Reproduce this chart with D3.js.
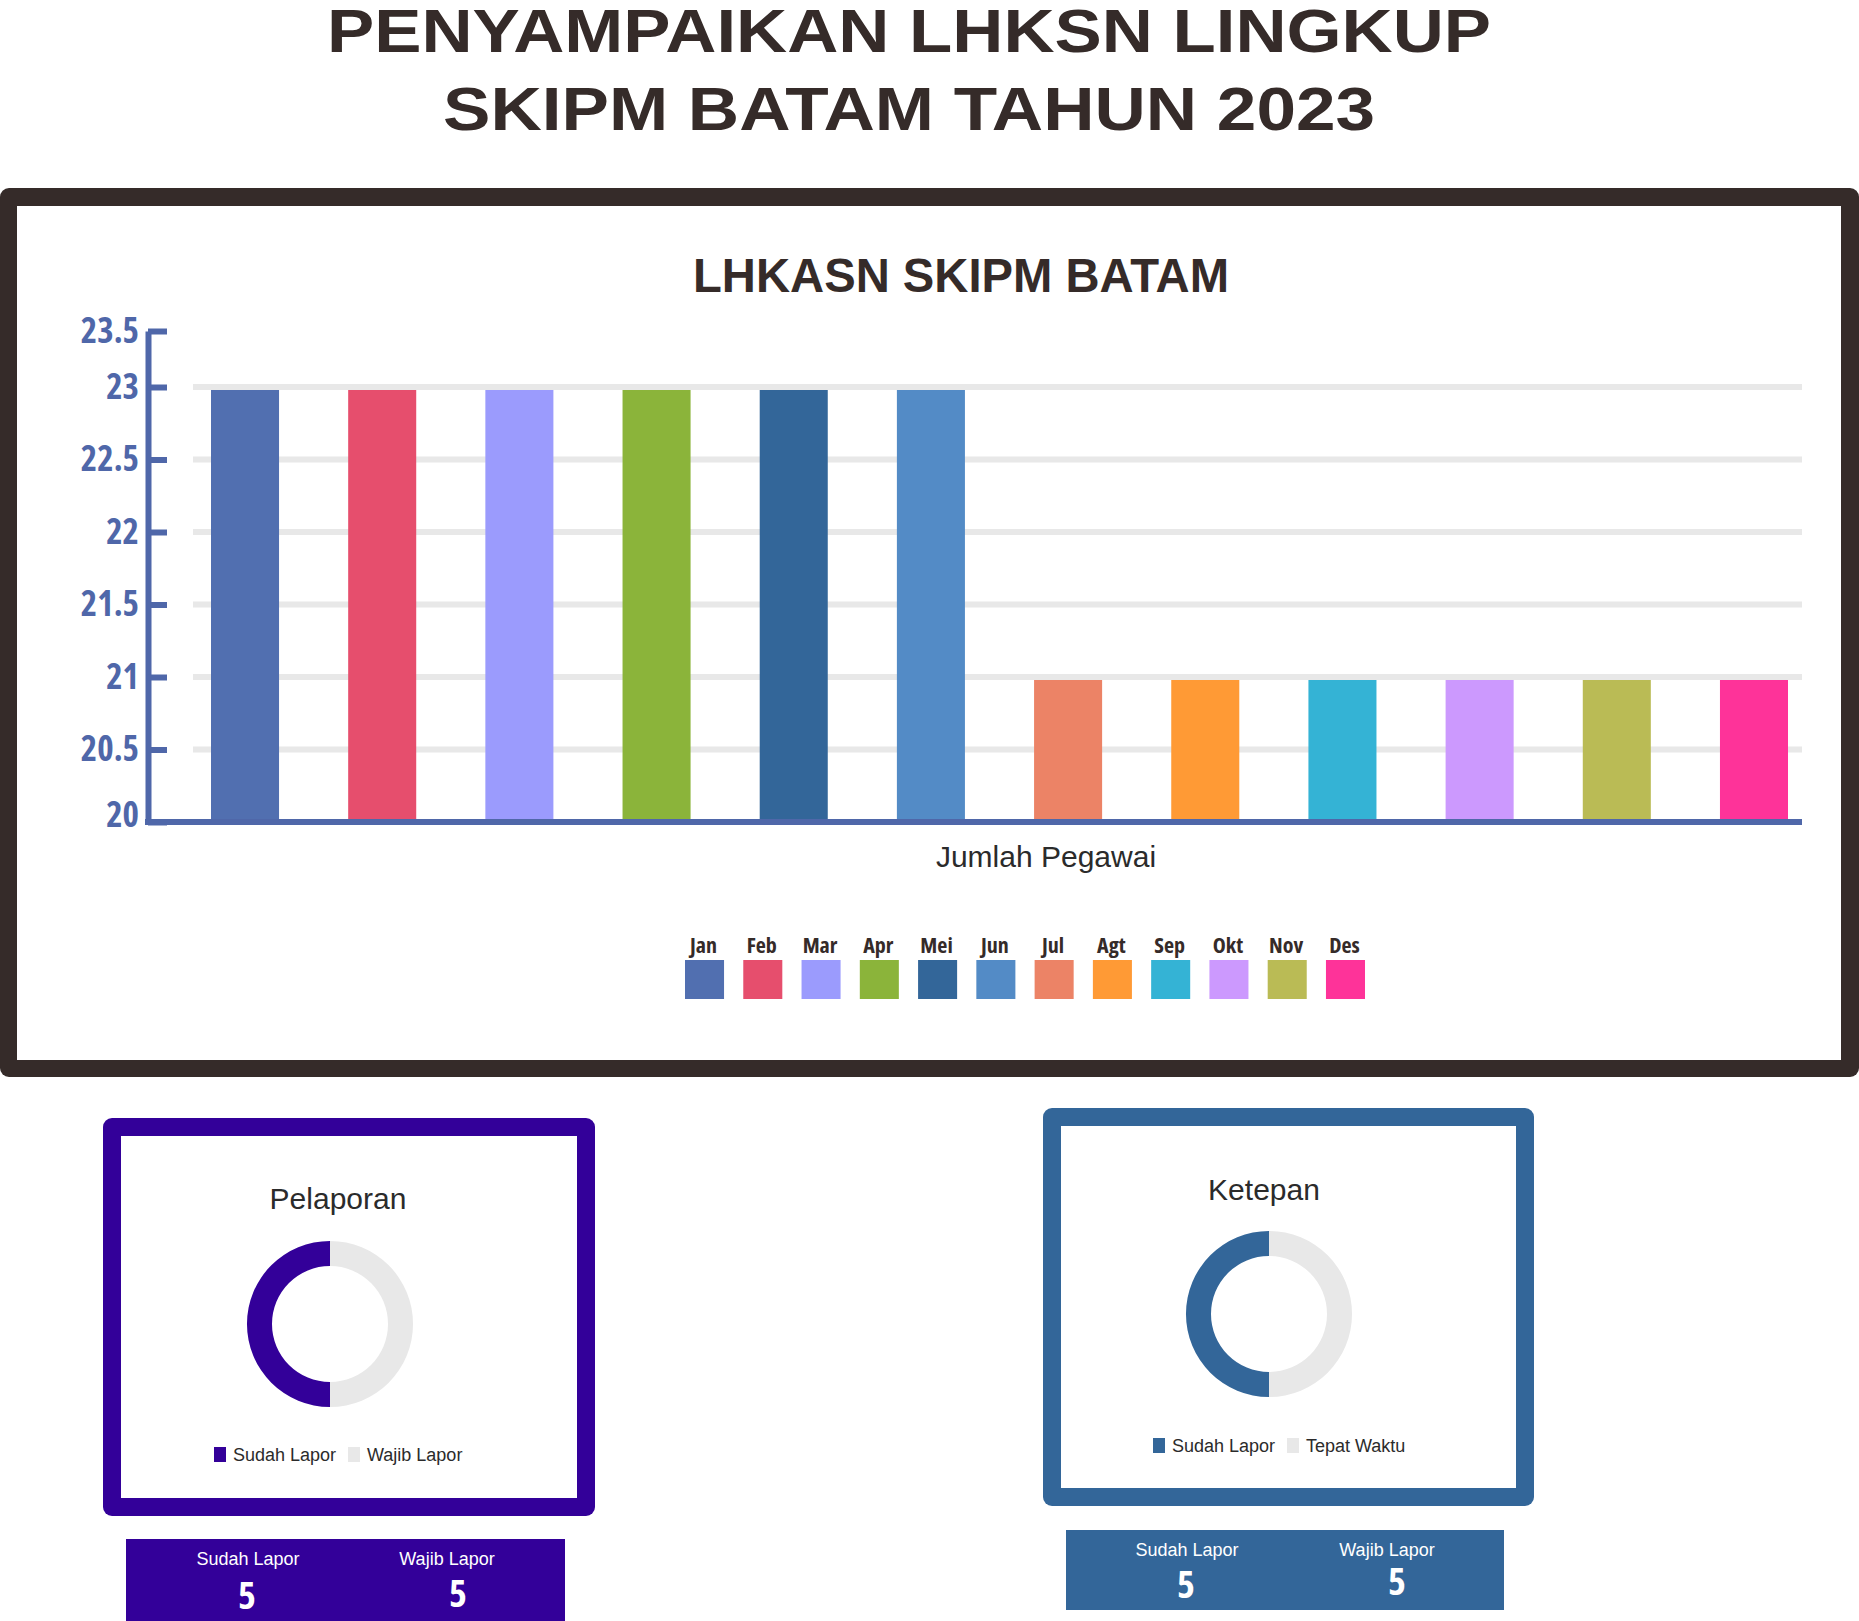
<!DOCTYPE html>
<html>
<head>
<meta charset="utf-8">
<script src="https://cdn.jsdelivr.net/npm/d3@7"></script>
<style>
	body { margin: 0; background: #ffffff; }
</style>
</head>
<body>
<div id="page"></div>
<script>

// Bar chart data (LHKASN per month)
const months = ["Jan", "Feb", "Mar", "Apr", "Mei", "Jun", "Jul", "Agt", "Sep", "Okt", "Nov", "Des"];
const pegawai = [23, 23, 23, 23, 23, 23, 21, 21, 21, 21, 21, 21];
const monthColors = ["#516fb0", "#e64e6d", "#9b9bfd", "#8bb43a", "#336699", "#538bc6",
                     "#ec8366", "#ff9a35", "#34b3d5", "#cc99fe", "#babb55", "#fe3399"];
const yTicks = [20, 20.5, 21, 21.5, 22, 22.5, 23, 23.5];

// Donut data
const pelaporanKeys = ["Sudah Lapor", "Wajib Lapor"];
const pelaporanValues = [5, 5];
const ketepanKeys = ["Sudah Lapor", "Tepat Waktu"];
const ketepanValues = [5, 5];

// Summary boxes under the donuts
const statKeys = ["Sudah Lapor", "Wajib Lapor"];
const pelaporanStats = [5, 5];
const ketepanStats = [5, 5];

const W = 1859, H = 1621;
const dark = "#352b29";
const axisBlue = "#4f67a9";
const grid = "#e8e8e8";
const condensed = "'Open Sans', sans-serif";
const arial = "'Liberation Sans', Arial, sans-serif";

const svg = d3.select("#page")
	.append("svg")
		.attr("width", W)
		.attr("height", H);

////////////////////
// TITLE

// glyphs are stretched a bit wider in the source, so fit each line to its width
const titleLines = [
	{text: "PENYAMPAIKAN LHKSN LINGKUP", y: 52, len: 1164},
	{text: "SKIPM BATAM TAHUN 2023", y: 130, len: 932}
];
svg.selectAll("text.title")
	.data(titleLines)
	.enter()
	.append("text")
		.attr("class", "title")
		.attr("x", 909)
		.attr("y", d => d.y)
		.attr("text-anchor", "middle")
		.attr("font-family", arial)
		.attr("font-weight", "bold")
		.attr("font-size", 62)
		.attr("textLength", d => d.len)
		.attr("lengthAdjust", "spacingAndGlyphs")
		.attr("fill", dark)
		.text(d => d.text);

////////////////////
// MAIN FRAME

svg.append("rect")
	.attr("x", 0).attr("y", 188)
	.attr("width", W).attr("height", 889)
	.attr("rx", 9)
	.attr("fill", dark);
svg.append("rect")
	.attr("x", 17).attr("y", 206)
	.attr("width", 1824).attr("height", 854)
	.attr("fill", "#ffffff");

svg.append("text")
	.attr("x", 961)
	.attr("y", 292)
	.attr("text-anchor", "middle")
	.attr("font-family", arial)
	.attr("font-weight", "bold")
	.attr("font-size", 48)
	.attr("textLength", 536)
	.attr("lengthAdjust", "spacingAndGlyphs")
	.attr("fill", dark)
	.text("LHKASN SKIPM BATAM");

////////////////////
// BAR CHART

const plotLeft = 148, plotRight = 1802;

// y scale: the top tick (23.5) sits closer than the rest in the source
const y = d3.scaleLinear()
	.domain([20, 23, 23.5])
	.range([822, 387, 331]);

const x = d3.scaleBand()
	.domain(months)
	.range([211, 1788])
	.paddingInner(0.504)
	.paddingOuter(0);

const color = d3.scaleOrdinal()
	.domain(months)
	.range(monthColors);

const chart = svg.append("g");

// gridlines
chart.selectAll("line.grid")
	.data(yTicks.filter(t => t > 20 && t < 23.5))
	.enter()
	.append("line")
		.attr("class", "grid")
		.attr("x1", 193)
		.attr("x2", plotRight)
		.attr("y1", d => y(d))
		.attr("y2", d => y(d))
		.attr("stroke", grid)
		.attr("stroke-width", 6);

// bars
const barData = months.map((m, i) => ({month: m, value: pegawai[i]}));
chart.selectAll("rect.bar")
	.data(barData)
	.enter()
	.append("rect")
		.attr("class", "bar")
		.attr("x", d => x(d.month))
		.attr("width", x.bandwidth())
		.attr("y", d => y(d.value) + 3)
		.attr("height", d => y(20) - y(d.value) - 3)
		.attr("fill", d => color(d.month));

// y axis
const yAxis = chart.append("g")
	.attr("transform", "translate(" + plotLeft + ",0)")
	.call(d3.axisLeft(y)
		.tickValues(yTicks)
		.tickSizeInner(-19)
		.tickSizeOuter(0)
		.tickPadding(9)
		.tickFormat(d3.format("")));
yAxis.select(".domain")
	.attr("stroke", axisBlue)
	.attr("stroke-width", 6);
yAxis.selectAll(".tick line")
	.attr("stroke", axisBlue)
	.attr("stroke-width", 6);
yAxis.selectAll(".tick text")
	.attr("fill", axisBlue)
	.attr("font-family", condensed)
	.attr("font-weight", 700)
	.attr("font-size", 35)
	.style("font-stretch", "75%")
	.attr("dy", d => d === 20 ? "0.12em" : "0.32em");

// baseline of the plot
chart.append("line")
	.attr("x1", plotLeft - 3)
	.attr("x2", plotRight)
	.attr("y1", y(20))
	.attr("y2", y(20))
	.attr("stroke", axisBlue)
	.attr("stroke-width", 6);

// x axis title
chart.append("text")
	.attr("x", 1046)
	.attr("y", 867)
	.attr("text-anchor", "middle")
	.attr("font-family", arial)
	.attr("font-size", 30)
	.attr("fill", "#2b2b2b")
	.text("Jumlah Pegawai");

// legend
const lx = d3.scaleBand()
	.domain(months)
	.range([685, 1365])
	.paddingInner(0.33)
	.paddingOuter(0);

const legend = chart.selectAll("g.legend")
	.data(months)
	.enter()
	.append("g")
		.attr("class", "legend")
		.attr("transform", d => "translate(" + lx(d) + ",0)");
legend.append("rect")
	.attr("y", 960)
	.attr("width", lx.bandwidth())
	.attr("height", 39)
	.attr("fill", d => color(d));
legend.append("text")
	.attr("x", lx.bandwidth() / 2 - 1)
	.attr("y", 953)
	.attr("text-anchor", "middle")
	.attr("font-family", condensed)
	.attr("font-weight", 700)
	.attr("font-size", 22)
	.style("font-stretch", "75%")
	.attr("fill", dark)
	.text(d => d);

////////////////////
// DONUT PANELS

function donutPanel(cfg) {
	const g = svg.append("g");

	// thick rounded frame
	g.append("rect")
		.attr("x", cfg.x).attr("y", cfg.y)
		.attr("width", cfg.w).attr("height", cfg.h)
		.attr("rx", 9)
		.attr("fill", cfg.color);
	g.append("rect")
		.attr("x", cfg.x + 18).attr("y", cfg.y + 18)
		.attr("width", cfg.w - 36).attr("height", cfg.h - 36)
		.attr("fill", "#ffffff");

	g.append("text")
		.attr("x", cfg.titleX)
		.attr("y", cfg.titleY)
		.attr("text-anchor", "middle")
		.attr("font-family", arial)
		.attr("font-size", 30)
		.attr("fill", "#2b2b2b")
		.text(cfg.title);

	const data = cfg.keys.map((k, i) => ({key: k, value: cfg.values[i]}));
	const pieColor = d3.scaleOrdinal().domain(cfg.keys).range([cfg.color, grid]);
	const pie = d3.pie()
		.sort(null)
		.value(d => d.value)
		.startAngle(Math.PI)
		.endAngle(3 * Math.PI);
	const arc = d3.arc().innerRadius(58).outerRadius(83);

	g.append("g")
		.attr("transform", "translate(" + cfg.cx + "," + cfg.cy + ")")
		.selectAll("path")
		.data(pie(data))
		.enter()
		.append("path")
			.attr("d", arc)
			.attr("fill", d => pieColor(d.data.key));

	// legend under the donut
	const item = g.selectAll("g.item")
		.data(cfg.keys)
		.enter()
		.append("g")
			.attr("class", "item")
			.attr("transform", (d, i) => "translate(" + cfg.legendX[i] + "," + cfg.legendY + ")");
	item.append("rect")
		.attr("x", 0).attr("y", -15)
		.attr("width", 12).attr("height", 15)
		.attr("fill", d => pieColor(d));
	item.append("text")
		.attr("x", 19)
		.attr("y", -1)
		.attr("font-family", arial)
		.attr("font-size", 18)
		.attr("fill", "#2b2b2b")
		.text(d => d);

	// summary box: small label on top, big number under it
	g.append("rect")
		.attr("x", cfg.box.x).attr("y", cfg.box.y)
		.attr("width", cfg.box.w).attr("height", cfg.box.h)
		.attr("fill", cfg.color);
	const stats = statKeys.map((k, i) => ({key: k, value: cfg.stats[i], i: i}));
	g.selectAll("text.statLabel")
		.data(stats)
		.enter()
		.append("text")
			.attr("class", "statLabel")
			.attr("x", d => cfg.labelX[d.i])
			.attr("y", cfg.box.y + 26)
			.attr("text-anchor", "middle")
			.attr("font-family", arial)
			.attr("font-size", 18)
			.attr("fill", "#ffffff")
			.text(d => d.key);
	g.selectAll("text.statValue")
		.data(stats)
		.enter()
		.append("text")
			.attr("class", "statValue")
			.attr("x", d => cfg.numX[d.i])
			.attr("y", d => cfg.box.y + cfg.numY[d.i])
			.attr("text-anchor", "middle")
			.attr("font-family", condensed)
			.attr("font-weight", 700)
			.attr("font-size", 38)
			.style("font-stretch", "75%")
			.attr("fill", "#ffffff")
			.text(d => d.value);
}

donutPanel({
	title: "Pelaporan", color: "#330099",
	x: 103, y: 1118, w: 492, h: 398,
	titleX: 338, titleY: 1209,
	cx: 330, cy: 1324,
	keys: pelaporanKeys, values: pelaporanValues,
	legendX: [214, 348], legendY: 1462,
	box: {x: 126, y: 1539, w: 439, h: 100},
	labelX: [248, 447], numX: [247, 458], numY: [70, 68],
	stats: pelaporanStats
});

donutPanel({
	title: "Ketepan", color: "#336699",
	x: 1043, y: 1108, w: 491, h: 398,
	titleX: 1264, titleY: 1200,
	cx: 1269, cy: 1314,
	keys: ketepanKeys, values: ketepanValues,
	legendX: [1153, 1287], legendY: 1453,
	box: {x: 1066, y: 1530, w: 438, h: 80},
	labelX: [1187, 1387], numX: [1186, 1397], numY: [68, 65],
	stats: ketepanStats
});

</script>
</body>
</html>
